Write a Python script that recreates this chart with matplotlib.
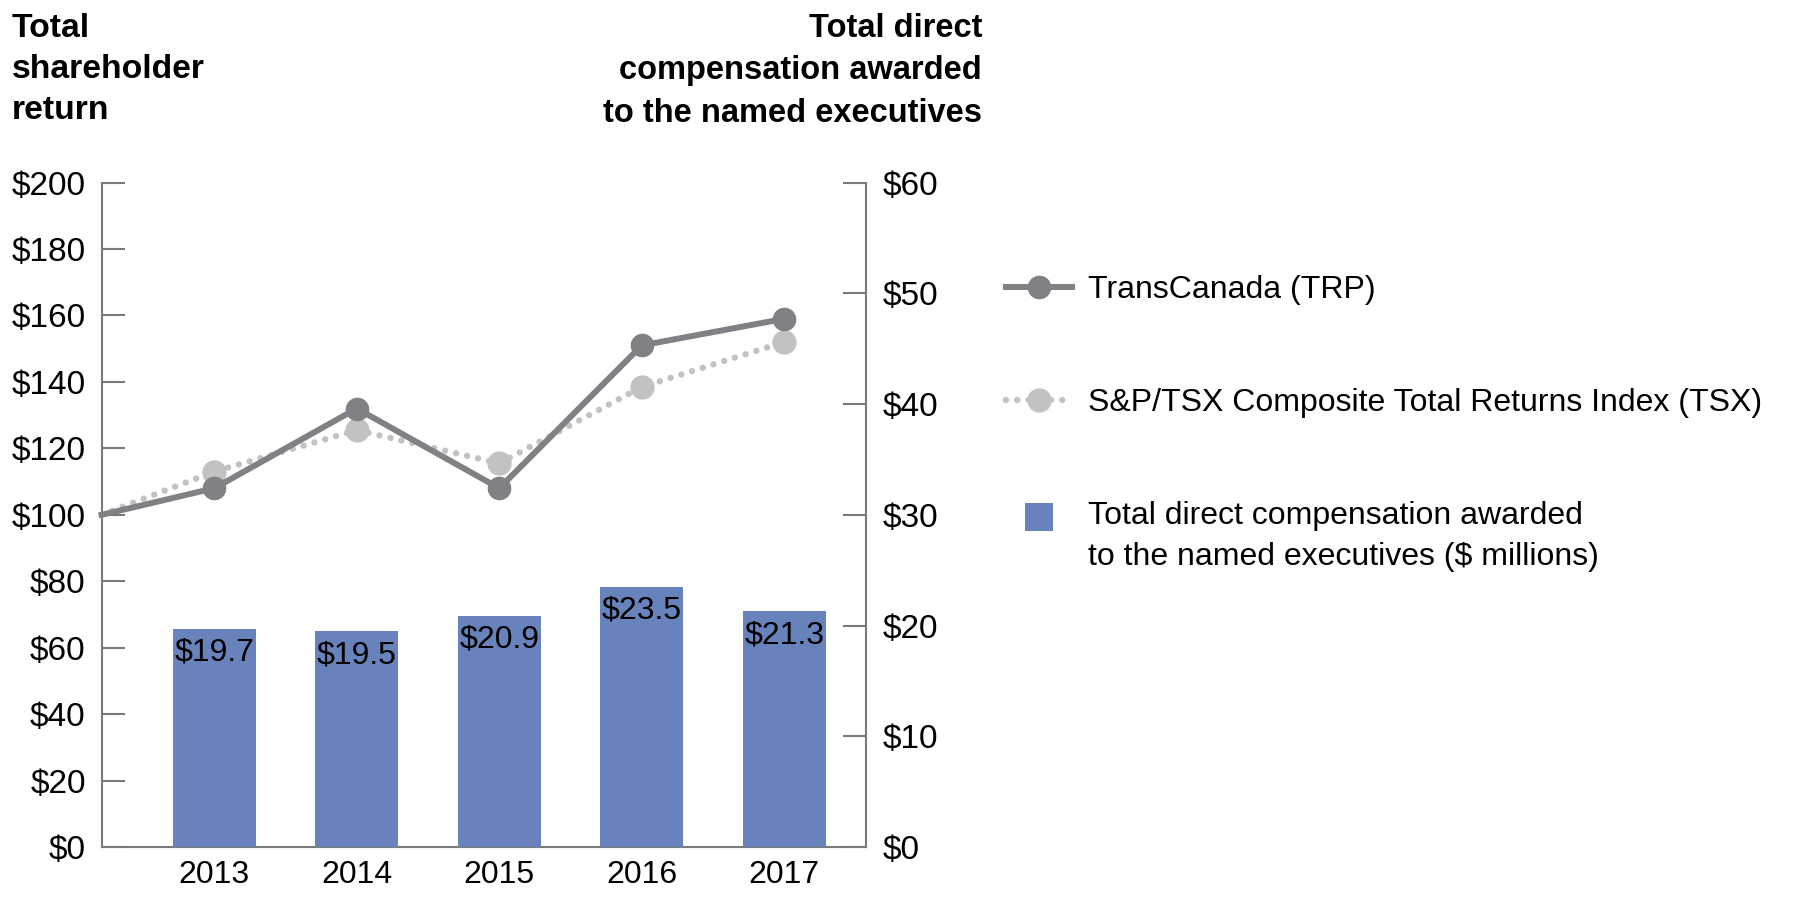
import matplotlib
matplotlib.use("Agg")
import matplotlib.pyplot as plt
from matplotlib.patches import Rectangle
from matplotlib.legend_handler import HandlerPatch

plt.rcParams['font.family'] = ['Liberation Sans', 'DejaVu Sans']

## Chart data
years = ['2013', '2014', '2015', '2016', '2017']
comp_millions = [19.7, 19.5, 20.9, 23.5, 21.3]
trp_return = [100, 108, 132, 108, 151, 159]    # first value is the 2012 base
tsx_return = [100, 113, 125.5, 115.5, 138.5, 152]
left_ticks = [0, 20, 40, 60, 80, 100, 120, 140, 160, 180, 200]
right_ticks = [0, 10, 20, 30, 40, 50, 60]

trp_color = '#808085'
tsx_color = '#c2c2c2'
bar_color = '#6883bb'
axis_color = '#7a7a7a'
fs = 23

fig = plt.figure(figsize=(18.12, 8.99), dpi=100)
ax = fig.add_axes([0.0561, 0.0578, 0.4216, 0.7391])
ax2 = ax.twinx()

xpos = list(range(len(years)))
base_x = -0.79
line_x = [base_x] + xpos

# bars on the right axis (millions)
bars = ax2.bar(xpos, comp_millions, width=0.58, color=bar_color, zorder=1)
for x, v in zip(xpos, comp_millions):
    ax2.annotate('$%.1f' % v, (x, v), xytext=(0, -24), textcoords='offset pixels',
                 ha='center', va='center', fontsize=fs, color='black')

# lines drawn on top of bars
ax3 = ax.twinx()
ax3.set_ylim(0, 200)
ax3.axis('off')
tsx_line, = ax3.plot(line_x, tsx_return, color=tsx_color, lw=4.6,
                     linestyle=(0, (0.01, 1.75)), dash_capstyle='round',
                     marker='o', markersize=16.5, markevery=list(range(1, 6)), clip_on=False)
trp_line, = ax3.plot(line_x, trp_return, color=trp_color, lw=4.3,
                     marker='o', markersize=16, markevery=list(range(1, 6)), clip_on=False)

for a in (ax, ax2, ax3):
    a.set_xlim(base_x, 4.57)

ax.set_ylim(0, 200)
ax2.set_ylim(0, 60)
ax.set_yticks(left_ticks)
ax.set_yticklabels(['$%d' % t for t in left_ticks])
ax2.set_yticks(right_ticks)
ax2.set_yticklabels(['$%d' % t for t in right_ticks])
ax.set_xticks(xpos)
ax.set_xticklabels(years)

for a in (ax, ax2):
    for s in a.spines.values():
        s.set_color(axis_color)
        s.set_linewidth(1.5)
    a.spines['top'].set_visible(False)
ax.spines['right'].set_visible(False)
ax2.spines['left'].set_visible(False)
ax2.spines['bottom'].set_visible(False)

ax.tick_params(axis='y', direction='in', length=16.5, width=1.5, color=axis_color,
               labelsize=24, pad=11.5)
ax2.tick_params(axis='y', direction='in', length=16.5, width=1.5, color=axis_color,
                labelsize=24, pad=12.5)
ax.tick_params(axis='x', length=0, labelsize=fs, pad=9)

# axis titles
fig.text(0.0066, 0.986, 'Total\nshareholder\nreturn', ha='left', va='top',
         fontsize=24.3, fontweight='bold', linespacing=1.42)
fig.text(0.542, 0.986, 'Total direct\ncompensation awarded\nto the named executives',
         ha='right', va='top', fontsize=23.5, fontweight='bold', linespacing=1.48)


def square_handle(legend, orig_handle, xdescent, ydescent, width, height, fontsize):
    s = 0.88 * fontsize
    cx = -xdescent + width / 2
    cy = -ydescent + height / 2 + 0.62 * fontsize
    return Rectangle((cx - s / 2, cy - s / 2), s, s)


leg = ax3.legend([trp_line, tsx_line, bars[0]],
                 ['TransCanada (TRP)', 'S&P/TSX Composite Total Returns Index (TSX)',
                  'Total direct compensation awarded\nto the named executives ($ millions)'],
                 handler_map={bars[0]: HandlerPatch(patch_func=square_handle)},
                 loc='upper left', bbox_to_anchor=(0.555, 0.694),
                 bbox_transform=fig.transFigure, frameon=False, fontsize=fs,
                 labelspacing=2.6, handlelength=2.07, handletextpad=0.52,
                 borderpad=0, borderaxespad=0, numpoints=1)
for t in leg.get_texts():
    t.set_linespacing(1.45)

plt.savefig('out.png', dpi=100)
